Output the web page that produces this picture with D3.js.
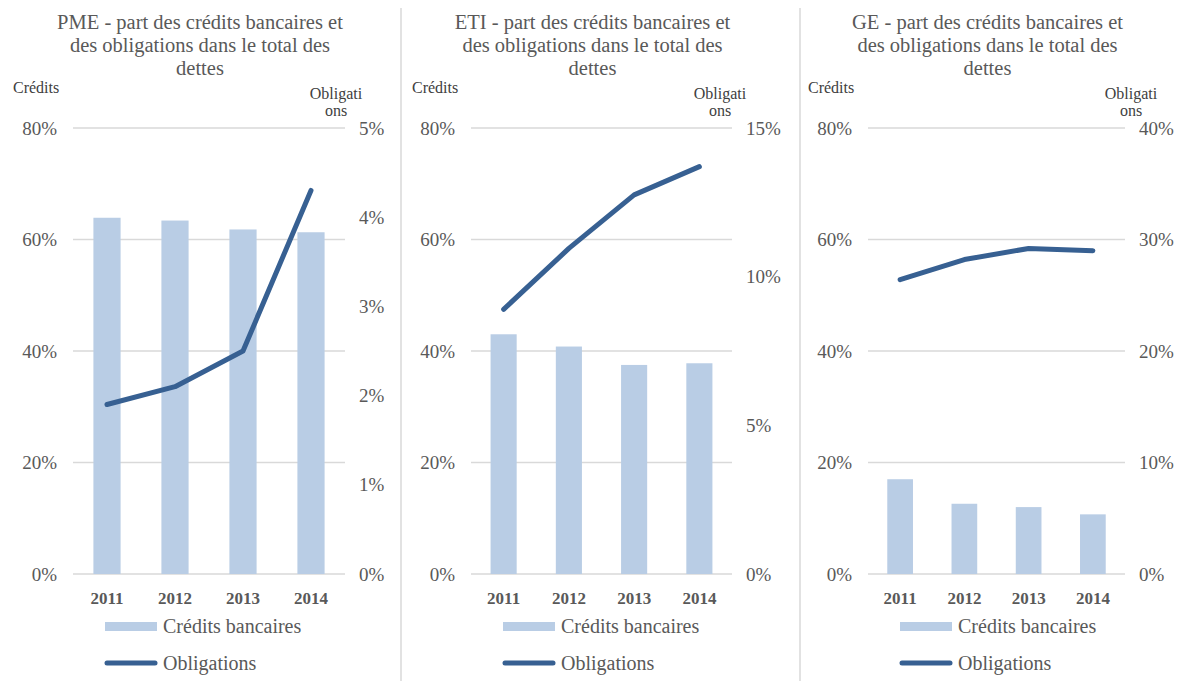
<!DOCTYPE html>
<html>
<head>
<meta charset="utf-8">
<script src="https://cdn.jsdelivr.net/npm/d3@7"></script>
<style>
  body { margin: 0; background: #fff; }
  text { font-family: "Liberation Serif", "DejaVu Serif", serif; }
</style>
</head>
<body>
<svg id="chart"></svg>
<script>
// data
var years = ["2011", "2012", "2013", "2014"];

var creditsPME = [63.9, 63.4, 61.8, 61.3];
var obligPME = [1.9, 2.1, 2.5, 4.3];
var creditsETI = [43.0, 40.8, 37.5, 37.8];
var obligETI = [8.9, 10.95, 12.75, 13.7];
var creditsGE = [17.0, 12.6, 12.0, 10.7];
var obligGE = [26.4, 28.2, 29.2, 29.0];

var leftTicks = [0, 20, 40, 60, 80];
var rightTicksPME = [0, 1, 2, 3, 4, 5];
var rightTicksETI = [0, 5, 10, 15];
var rightTicksGE = [0, 10, 20, 30, 40];

var titles = [
    ["PME - part des crédits bancaires et", "des obligations dans le total des", "dettes"],
    ["ETI - part des crédits bancaires et", "des obligations dans le total des", "dettes"],
    ["GE - part des crédits bancaires et", "des obligations dans le total des", "dettes"]
];

var panels = [
    { title: titles[0], credits: creditsPME, oblig: obligPME, rTicks: rightTicksPME },
    { title: titles[1], credits: creditsETI, oblig: obligETI, rTicks: rightTicksETI },
    { title: titles[2], credits: creditsGE, oblig: obligGE, rTicks: rightTicksGE }
];

// layout
var width = 1184, height = 681;
var plotX = [[73, 345], [471, 732], [868, 1125]];
var creditsX = [13, 412, 808];
var obligX = [336, 720, 1131];
var legendX = [105, 503, 900];
var dividers = [401, 800];
var yTop = 128, yBottom = 574;

var barColor = "#b9cde5", lineColor = "#376092", gridColor = "#d9d9d9", textColor = "#595959";

var svg = d3.select('#chart')
    .attr('width', width)
    .attr('height', height)
    .style('background', '#fff');

svg.selectAll('line.divider')
    .data(dividers)
    .enter()
    .append('line')
    .attr('class', 'divider')
    .attr('x1', d => d).attr('x2', d => d)
    .attr('y1', 8).attr('y2', height)
    .attr('stroke', gridColor)
    .attr('stroke-width', 1.5);

panels.forEach((p, i) => {
    var g = svg.append('g');
    var x0 = plotX[i][0], x1 = plotX[i][1];
    var cx = (x0 + x1) / 2 - 9;

    var x = d3.scaleBand().domain(years).range([x0, x1]).paddingInner(0.6).paddingOuter(0.3);
    var yL = d3.scaleLinear().domain([0, 80]).range([yBottom, yTop]);
    var yR = d3.scaleLinear().domain([0, d3.max(p.rTicks)]).range([yBottom, yTop]);

    // title
    g.selectAll('text.title')
        .data(p.title)
        .enter()
        .append('text')
        .attr('class', 'title')
        .attr('x', cx)
        .attr('y', (d, k) => 29 + k * 23)
        .attr('text-anchor', 'middle')
        .attr('font-size', 20.5)
        .attr('fill', textColor)
        .text(d => d);

    // axis headers
    g.append('text')
        .attr('x', creditsX[i]).attr('y', 93)
        .attr('font-size', 16).attr('fill', '#404040')
        .text('Crédits');
    g.selectAll('text.oblhead')
        .data(['Obligati', 'ons'])
        .enter()
        .append('text')
        .attr('class', 'oblhead')
        .attr('x', obligX[i])
        .attr('y', (d, k) => 99 + k * 17)
        .attr('text-anchor', 'middle')
        .attr('font-size', 16).attr('fill', '#404040')
        .text(d => d);

    // gridlines
    g.selectAll('line.grid')
        .data(leftTicks)
        .enter()
        .append('line')
        .attr('class', 'grid')
        .attr('x1', x0).attr('x2', x1)
        .attr('y1', d => yL(d)).attr('y2', d => yL(d))
        .attr('stroke', gridColor)
        .attr('stroke-width', 1.5);

    // bars
    g.selectAll('rect.bar')
        .data(p.credits)
        .enter()
        .append('rect')
        .attr('class', 'bar')
        .attr('x', (d, k) => x(years[k]))
        .attr('width', x.bandwidth())
        .attr('y', d => yL(d))
        .attr('height', d => yBottom - yL(d))
        .attr('fill', barColor);

    // line
    var line = d3.line()
        .x((d, k) => x(years[k]) + x.bandwidth() / 2)
        .y(d => yR(d));
    g.append('path')
        .datum(p.oblig)
        .attr('d', line)
        .attr('fill', 'none')
        .attr('stroke', lineColor)
        .attr('stroke-width', 5)
        .attr('stroke-linecap', 'round')
        .attr('stroke-linejoin', 'round');

    // axes
    var left = g.append('g')
        .attr('transform', 'translate(' + x0 + ',0)')
        .call(d3.axisLeft(yL).tickValues(leftTicks).tickSize(0).tickPadding(16).tickFormat(d => d + '%'));
    var right = g.append('g')
        .attr('transform', 'translate(' + x1 + ',0)')
        .call(d3.axisRight(yR).tickValues(p.rTicks).tickSize(0).tickPadding(14).tickFormat(d => d + '%'));
    var bottom = g.append('g')
        .attr('transform', 'translate(0,' + yBottom + ')')
        .call(d3.axisBottom(x).tickSize(0).tickPadding(18));

    [left, right, bottom].forEach(a => {
        a.select('.domain').remove();
        a.selectAll('text')
            .attr('font-family', '"Liberation Serif", serif')
            .attr('fill', textColor);
    });
    left.selectAll('text').attr('font-size', 19);
    right.selectAll('text').attr('font-size', 19);
    bottom.selectAll('text').attr('font-size', 17).attr('font-weight', 'bold');

    // legend
    var lx = legendX[i];
    g.append('rect')
        .attr('x', lx).attr('y', 622)
        .attr('width', 52).attr('height', 9)
        .attr('fill', barColor);
    g.append('text')
        .attr('x', lx + 58).attr('y', 633)
        .attr('font-size', 20).attr('fill', textColor)
        .text('Crédits bancaires');
    g.append('line')
        .attr('x1', lx + 2).attr('x2', lx + 50)
        .attr('y1', 663).attr('y2', 663)
        .attr('stroke', lineColor)
        .attr('stroke-width', 5)
        .attr('stroke-linecap', 'round');
    g.append('text')
        .attr('x', lx + 58).attr('y', 670)
        .attr('font-size', 20).attr('fill', textColor)
        .text('Obligations');
});
</script>
</body>
</html>
